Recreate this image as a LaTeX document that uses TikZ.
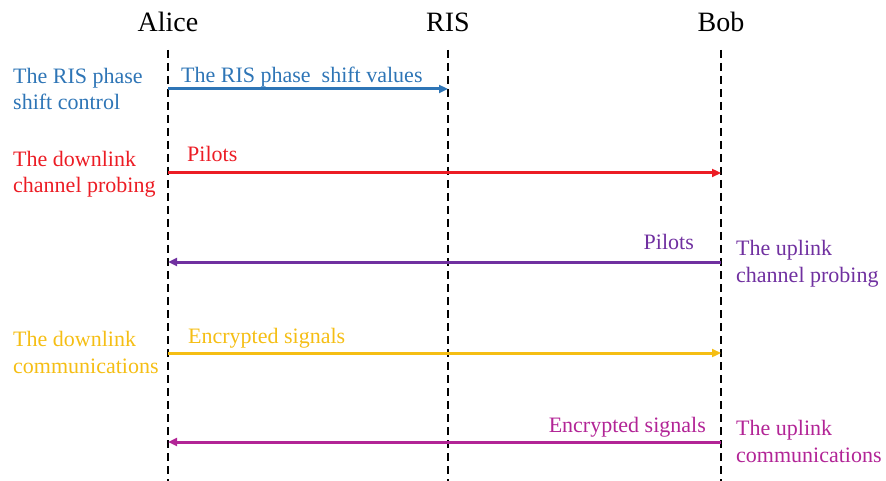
\documentclass[tikz,border=0pt]{standalone}
\usepackage{fontspec}
\setmainfont{Liberation Serif}
\usetikzlibrary{arrows.meta}
\definecolor{risblue}{RGB}{46,117,182}
\definecolor{probered}{RGB}{236,28,36}
\definecolor{uppurple}{RGB}{112,48,160}
\definecolor{downyellow}{RGB}{245,190,20}
\definecolor{upmagenta}{RGB}{178,36,150}
\tikzset{
	party/.style={font=\fontsize{28}{30}\selectfont, anchor=base},
	lifeline/.style={line width=1.6pt, dash pattern=on 8pt off 5pt},
	msg/.style={line width=3pt, -{Triangle[length=9pt,width=8pt]}},
	msglabel/.style={font=\fontsize{22}{26}\selectfont, anchor=base, inner sep=0pt},
	phase/.style={font=\fontsize{22}{26.5}\selectfont, align=left, anchor=base west, inner sep=0pt}
}

\begin{document}
\begin{tikzpicture}[x=1pt, y=-1pt]
		%%%%% START %%%%%
		\useasboundingbox (0, 0) rectangle (886, 481);
		
		% the three parties
		\node[party] (alice) at (168, 32) {Alice};
		\node[party] (ris) at (448, 32) {RIS};
		\node[party] (bob) at (721, 32) {Bob};
		
		\coordinate (aliceend) at (168, 481);
		\coordinate (risend) at (448, 481);
		\coordinate (bobend) at (721, 481);
		\draw[lifeline] (alice |- 0, 50) -- (aliceend);
		\draw[lifeline] (ris |- 0, 50) -- (risend);
		\draw[lifeline] (bob |- 0, 50) -- (bobend);
		
		% phase shift control
		\node[phase, text=risblue] (ctrl) at (13, 110) {The RIS phase\\shift control};
		\draw[msg, color=risblue] (alice |- 0, 89) -- (ris |- 0, 89);
		\node[msglabel, anchor=base west, text=risblue] (ctrlmsg) at (181, 83) {The RIS phase\ \ shift values};
		
		% downlink probing
		\node[phase, text=probered] (dprobe) at (13, 193) {The downlink\\channel probing};
		\draw[msg, color=probered] (alice |- 0, 173) -- (bob |- 0, 173);
		\node[msglabel, anchor=base west, text=probered] (dpilots) at (187, 162) {Pilots};
		
		% uplink probing
		\node[phase, text=uppurple] (uprobe) at (736, 282) {The uplink\\channel probing};
		\draw[msg, color=uppurple] (bob |- 0, 262) -- (alice |- 0, 262);
		\node[msglabel, anchor=base east, text=uppurple] (upilots) at (694, 250) {Pilots};
		
		% downlink communications
		\node[phase, text=downyellow] (dcomm) at (13, 373) {The downlink\\communications};
		\draw[msg, color=downyellow] (alice |- 0, 353) -- (bob |- 0, 353);
		\node[msglabel, anchor=base west, text=downyellow] (dsig) at (188, 343) {Encrypted signals};
		
		% uplink communications
		\node[phase, text=upmagenta] (ucomm) at (736, 462) {The uplink\\communications};
		\draw[msg, color=upmagenta] (bob |- 0, 442) -- (alice |- 0, 442);
		\node[msglabel, anchor=base east, text=upmagenta] (usig) at (706, 432) {Encrypted signals};
		
		%%%%% END %%%%%
	\end{tikzpicture}
\end{document}
